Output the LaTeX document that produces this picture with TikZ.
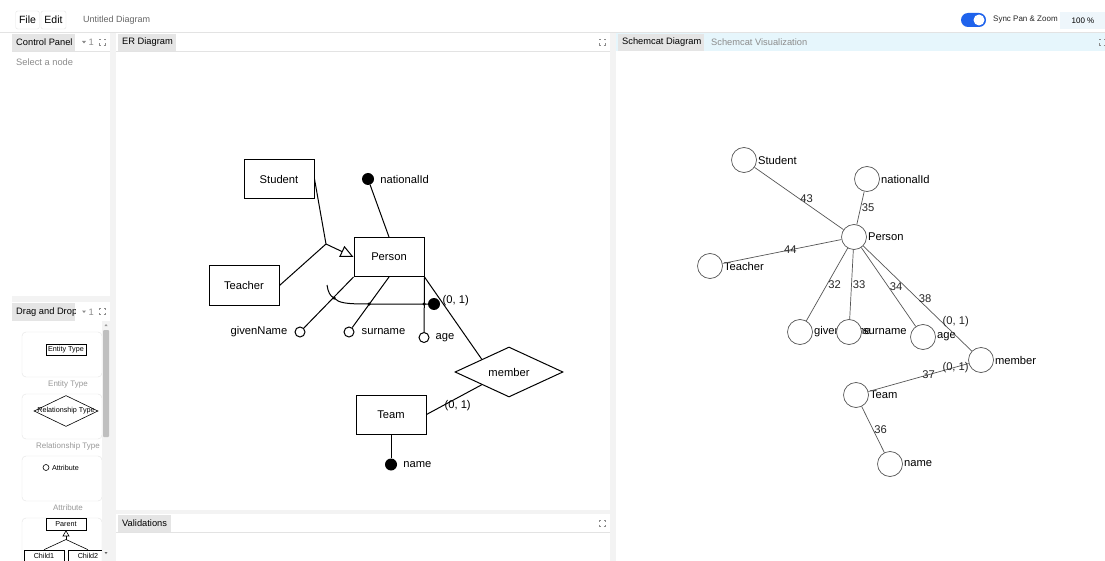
\documentclass[tikz,border=0pt]{standalone}
\usepackage{fontspec}
\setmainfont{Liberation Sans}
\usetikzlibrary{arrows,arrows.meta,shapes,positioning}

\definecolor{tabgray}{HTML}{E5E5E5}
\definecolor{bandgray}{HTML}{F3F3F3}
\definecolor{rulegray}{HTML}{E3E3E3}
\definecolor{mutedtext}{HTML}{8C8C8C}
\definecolor{toggleblue}{HTML}{1F63EC}
\definecolor{schemhead}{HTML}{E6F6FC}
\definecolor{zoomfill}{HTML}{EEF6FB}
\definecolor{vtxgray}{HTML}{555555}

\newcommand{\erfont}{\fontsize{11.2}{13}\selectfont}
\newcommand{\uifont}{\fontsize{9.3}{11}\selectfont}
\newcommand{\smallui}{\fontsize{8}{10}\selectfont}
\newcommand{\paltext}{\fontsize{7.2}{9}\selectfont}

\begin{document}
\begin{tikzpicture}[x=1pt,y=-1pt,>=stealth',auto,every label/.style={font=\erfont,inner sep=1pt}]
        \tikzstyle{entity}=[rectangle,draw,line width=1pt,minimum width=70pt,minimum height=39pt,font=\erfont]
        \tikzstyle{relship}=[diamond,draw,line width=1pt,minimum width=108pt,minimum height=50pt,inner sep=0pt,font=\erfont]
        \tikzstyle{attr}=[circle,draw,line width=1pt,fill=white,minimum size=10pt,inner sep=0pt]
        \tikzstyle{keyattr}=[circle,fill=black,minimum size=12pt,inner sep=0pt]
        \tikzstyle{dot}=[circle,fill=black,minimum size=3.5pt,inner sep=0pt]
        \tikzstyle{card}=[font=\erfont,inner sep=1pt]
        \tikzstyle{link}=[line width=1pt]
        \tikzstyle{vertex}=[circle,draw=vtxgray,fill=white,line width=0.7pt,minimum size=25pt,inner sep=0pt]
        \tikzstyle{vedge}=[vtxgray,line width=0.7pt]
        \tikzstyle{elabel}=[font=\erfont,inner sep=1pt,text=black!85]
        \tikzstyle{tabtext}=[anchor=west,inner sep=0pt,font=\uifont]
        \tikzstyle{expander}=[draw=black!45,line width=0.6pt,dash pattern=on 3pt off 3pt,dash phase=1.5pt,minimum size=6pt,inner sep=0pt]
        \tikzstyle{palbox}=[draw,line width=0.6pt,inner sep=0pt,font=\paltext]

        \useasboundingbox (0,0) rectangle (1105,561);
        \fill[white] (0,0) rectangle (1105,561);

        % top bar
        \draw[rulegray] (0,32.5) -- (1105,32.5);
        \node[draw=rulegray,rounded corners=2pt,minimum width=23pt,minimum height=18pt,font=\fontsize{10.5}{12}\selectfont] (filebtn) at (27.5,20) {File};
        \node[draw=rulegray,rounded corners=2pt,minimum width=25pt,minimum height=18pt,font=\fontsize{10.5}{12}\selectfont] (editbtn) at (53.5,20) {Edit};
        \node[anchor=west,inner sep=0pt,font=\fontsize{9}{11}\selectfont,text=black!60] (doctitle) at (83,20) {Untitled Diagram};
        \fill[toggleblue,rounded corners=7pt] (961,13) rectangle (986,27);
        \fill[white] (979,20) circle (5.5pt);
        \node[anchor=west,inner sep=0pt,font=\smallui,text=black!85] (synclbl) at (993,20) {Sync Pan \& Zoom};
        \fill[zoomfill] (1060,12) rectangle (1105,29);
        \node[font=\smallui] (zoomval) at (1083,20.5) {100 \%};

        % gaps between panels
        \fill[bandgray] (110,33) rectangle (116,561);
        \fill[bandgray] (610,33) rectangle (616,561);
        \fill[bandgray] (12,296) rectangle (110,302);
        \fill[bandgray] (116,510) rectangle (610,514);

        % control panel
        \fill[tabgray] (12,34) rectangle (75,51);
        \node[tabtext] (cptab) at (16,42.5) {Control Panel};
        \fill[black!45] (82,41) -- (86,41) -- (84,43.5) -- cycle;
        \node[tabtext,text=black!45] (cpcount) at (88.5,42.5) {1};
        \node[expander] (cpexp) at (102,42) {};
        \draw[rulegray] (12,51.5) -- (110,51.5);
        \node[anchor=west,inner sep=0pt,font=\uifont,text=mutedtext] (cphint) at (16,62.5) {Select a node};

        % drag and drop palette
        \begin{scope}
            \clip (12,303) rectangle (75,321);
            \fill[tabgray] (12,303) rectangle (75,321);
            \node[tabtext] (ddtab) at (16,312) {Drag and Drop};
        \end{scope}
        \fill[black!45] (82,310.5) -- (86,310.5) -- (84,313) -- cycle;
        \node[tabtext,text=black!45] (ddcount) at (88.5,312) {1};
        \node[expander] (ddexp) at (102,311.5) {};
        \foreach \y/\cap in {332/Entity Type,394/Relationship Type,456/Attribute}{
            \draw[rulegray,rounded corners=4pt] (22,\y) rectangle (102,\y+45);
            \node[font=\smallui,text=black!40] at (68,\y+52) {\cap};
        }
        \draw[rulegray,rounded corners=4pt] (22,561) |- (102,518) -- (102,561);
        \node[palbox,minimum width=40pt,minimum height=11pt] (palent) at (66,349.5) {Entity Type};
        \node[diamond,draw,line width=0.6pt,minimum width=64pt,minimum height=31pt,inner sep=0pt,
              label={[font=\paltext,inner sep=0pt]center:Relationship Type}] (palrel) at (66,411) {};
        \node[circle,draw,line width=0.6pt,minimum size=6pt,inner sep=0pt,
              label={[font=\paltext,label distance=1.5pt]right:Attribute}] (palattr) at (46,467.5) {};
        \node[palbox,minimum width=40pt,minimum height=12pt] (palpar) at (66,524) {Parent};
        \node[palbox,minimum width=40pt,minimum height=11pt] (palch1) at (44,555.5) {Child1};
        \node[palbox,minimum width=40pt,minimum height=11pt] (palch2) at (88,555.5) {Child2};
        \coordinate (palsplit) at (66,539.5);
        \draw[line width=0.6pt,-{Triangle[open,length=6pt,width=7pt]}] (palsplit) -- (palpar.south);
        \draw[line width=0.6pt] (palch1.north) -- (palsplit) -- (palch2.north);
        \fill[bandgray] (102,321) rectangle (110,561);
        \fill[black!25,rounded corners=1pt] (103,330) rectangle (109,437);
        \fill[black!40] (104.5,326) -- (107.5,326) -- (106,324) -- cycle;
        \fill[black!60] (104.5,552) -- (107.5,552) -- (106,554) -- cycle;

        % ER diagram panel
        \fill[tabgray] (118,34) rectangle (176,51);
        \node[tabtext] (ertab) at (122,42.5) {ER Diagram};
        \draw[rulegray] (116,51.5) -- (610,51.5);
        \node[expander] (erexp) at (602,42) {};

        % validations panel
        \fill[tabgray] (118,515) rectangle (171,532);
        \node[tabtext] (valtab) at (122,523.5) {Validations};
        \draw[rulegray] (116,532.5) -- (610,532.5);
        \node[expander] (valexp) at (602,523) {};

        % schemcat panel
        \fill[schemhead] (616,33) rectangle (1105,51);
        \fill[tabgray] (618,34) rectangle (704,51);
        \node[tabtext] (sctab) at (622,42.5) {Schemcat Diagram};
        \node[tabtext,text=mutedtext] (scvis) at (711,42.5) {Schemcat Visualization};
        \node[expander] (scexp) at (1102,42) {};

        % ER diagram
        \node [entity] (student) at (279,179) {Student};
        \node [entity] (teacher) at (244,285.5) {Teacher};
        \node [entity] (person) at (389,257) {Person};
        \node [entity] (team) at (391,414.5) {Team};
        \node [relship] (member) at (509,372) {member};

        \node [keyattr, label={[label distance=5pt]right:nationalId}] (natid) at (368,179) {}
            edge [link] (person.north);
        \node [keyattr, label={[label distance=5pt]right:name}] (tname) at (391,464.5) {}
            edge [link] (team.south);
        \node [attr, label={[label distance=6pt]left:givenName}] (given) at (300,332) {}
            edge [link] (person.south west);
        \node [attr, label={[label distance=6pt]right:surname}] (sur) at (349,332) {}
            edge [link] (person.south);
        \node [attr, label={[label distance=5pt]right:age}] (age) at (424,337.5) {}
            edge [link] (person.south east);

        \coordinate (isa) at (326,244);   %generalisation point
        \draw [link] (student.east) -- (isa) -- (teacher.east);
        \draw [link,-{Triangle[open,length=13pt,width=12pt]}] (isa) -- (person.west);

        \node [dot] (d1) at (334,298) {};
        \node [dot] (d2) at (369,304) {};
        \node [dot] (d3) at (424,304) {};
        \node [keyattr] (ident) at (434,304) {};   %identifier
        \coordinate (idstart) at (327,285);
        \draw [link] (idstart) .. controls (328,292) and (330,296) .. (d1.center)
            .. controls (339,303) and (345,304) .. (d2.center) -- (ident);

        \draw [link] (person.south east) -- node [card, pos=0.29, anchor=west] {(0, 1)} (member.north west);
        \draw [link] (member.south west) -- node [card, pos=0.7, anchor=west] {(0, 1)} (team.east);

        % schemcat graph
        \node [vertex, label=right:Student] (sstudent) at (744,160) {};
        \node [vertex, label=right:nationalId] (snatid) at (867,179) {};
        \node [vertex, label=right:Person] (sperson) at (854,237) {};
        \node [vertex, label=right:Teacher] (steacher) at (710,266) {};
        \node [vertex, label=right:givenName] (sgiven) at (800,332) {};
        \node [vertex, label=right:surname] (ssur) at (849,332) {};
        \node [vertex, label=right:age] (sage) at (923,337) {};
        \node [vertex, label=right:member] (smember) at (981,360) {};
        \node [vertex, label=right:Team] (steam) at (856,395) {};
        \node [vertex, label=right:name] (sname) at (890,464) {};

        \draw [vedge] (sstudent) -- node [elabel, anchor=west] {43} (sperson);
        \draw [vedge] (snatid) -- node [elabel, anchor=west] {35} (sperson);
        \draw [vedge] (steacher) -- node [elabel, pos=0.57, anchor=center] {44} (sperson);
        \draw [vedge] (sperson) -- node [elabel, anchor=west] {32} (sgiven);
        \draw [vedge] (sperson) -- node [elabel, anchor=west] {33} (ssur);
        \draw [vedge] (sperson) -- node [elabel, anchor=west] {34} (sage);
        \draw [vedge] (sperson) -- node [elabel, anchor=west] {38}
            node [elabel, pos=0.72, anchor=west] {(0, 1)} (smember);
        \draw [vedge] (smember) -- node [elabel, pos=0.13, anchor=center] {(0, 1)}
            node [elabel, pos=0.4, anchor=center] {37} (steam);
        \draw [vedge] (steam) -- node [elabel, anchor=west] {36} (sname);
\end{tikzpicture}
\end{document}
